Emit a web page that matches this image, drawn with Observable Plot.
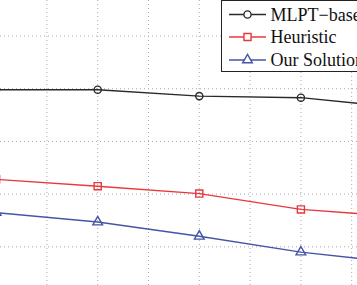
<!DOCTYPE html>
<html>
<head>
<meta charset="utf-8">
<script src="https://cdn.jsdelivr.net/npm/d3@7"></script>
<script src="https://cdn.jsdelivr.net/npm/@observablehq/plot@0.6"></script>
<style>
  html, body { margin: 0; padding: 0; background: #fff; }
  #wrap { position: relative; width: 357px; height: 285px; overflow: hidden; }
  #legend { position: absolute; left: 220px; top: 0; }
</style>
</head>
<body>
<div id="wrap"><div id="chart"></div><div id="legend"></div></div>
<script>
// ---- data ----
const xValues = [1, 2, 3, 4, 5];
const mlptBased = [4.98, 4.98, 4.86, 4.83, 4.64];
const heuristic = [3.28, 3.15, 3.01, 2.71, 2.57];
const ourSolution = [2.65, 2.47, 2.20, 1.90, 1.69];
const seriesNames = ["MLPT\u2212based", "Heuristic", "Our Solution"];
const seriesColors = ["#2a2a2a", "#e8383c", "#4455a8"];
const seriesSymbols = ["circle", "square", "triangle"];
const xGrid = [1.5, 2, 2.5, 3, 3.5, 4, 4.5];
const yGrid = [2, 3, 4, 5, 6];

const seriesValues = [mlptBased, heuristic, ourSolution];
const table = seriesValues.flatMap((vals, s) =>
  vals.map((v, i) => ({series: seriesNames[s], x: xValues[i], y: v})));

const W = 357, H = 285;
const marks = [
  Plot.ruleX(xGrid, {stroke: "#a8a8a8", strokeDasharray: "1,3", strokeWidth: 1}),
  Plot.ruleY(yGrid, {stroke: "#a8a8a8", strokeDasharray: "1,3", strokeWidth: 1})
];
seriesNames.forEach((name, s) => {
  const d = table.filter(r => r.series === name);
  marks.push(Plot.line(d, {x: "x", y: "y", stroke: seriesColors[s], strokeWidth: 1.4, clip: true}));
  marks.push(Plot.dot(d, {x: "x", y: "y", stroke: seriesColors[s], fill: "none",
    symbol: seriesSymbols[s], r: s === 1 ? 4 : 3.6, strokeWidth: 1.4, clip: true}));
});

const chart = Plot.plot({
  width: W, height: H,
  marginTop: 0, marginRight: 0, marginBottom: 0, marginLeft: 0,
  x: {type: "linear", domain: [1.0433, 4.5571], axis: null},
  y: {type: "linear", domain: [1.266, 6.674], axis: null},
  style: {background: "#fff"},
  marks
});
document.getElementById("chart").appendChild(chart);

// ---- legend ----
const lg = d3.select("#legend").append("svg")
  .attr("width", 160).attr("height", 74);
lg.append("rect").attr("x", 1.5).attr("y", 0.5).attr("width", 170).attr("height", 71)
  .attr("fill", "#fff").attr("stroke", "#222").attr("stroke-width", 1);
const rowY = [14.5, 37, 60];
seriesNames.forEach((name, s) => {
  const g = lg.append("g").attr("transform", `translate(0,${rowY[s]})`);
  g.append("line").attr("x1", 9).attr("x2", 46).attr("y1", 0).attr("y2", 0)
    .attr("stroke", seriesColors[s]).attr("stroke-width", 1.3);
  const r = s === 1 ? 4 : 3.6;
  const sym = {circle: d3.symbolCircle, square: d3.symbolSquare, triangle: d3.symbolTriangle}[seriesSymbols[s]];
  g.append("path").attr("d", d3.symbol(sym, Math.PI * r * r)())
    .attr("transform", "translate(27.5,0)")
    .attr("fill", "#fff").attr("stroke", seriesColors[s]).attr("stroke-width", 1.4);
  g.append("text").attr("x", 50.5).attr("y", 6)
    .attr("font-family", "'Liberation Serif', 'Times New Roman', serif")
    .attr("font-size", 18).attr("fill", "#111").text(name);
});
</script>
</body>
</html>
